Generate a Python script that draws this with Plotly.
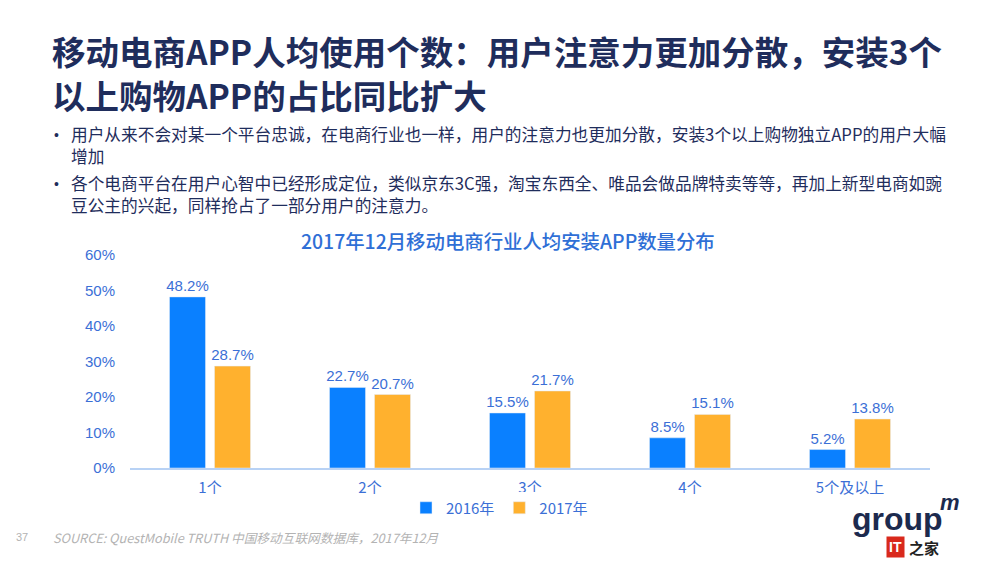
import plotly.graph_objects as go

# data
categories = ['1个', '2个', '3个', '4个', '5个及以上']
share_2016 = [0.482, 0.227, 0.155, 0.085, 0.052]
share_2017 = [0.287, 0.207, 0.217, 0.151, 0.138]
y_ticks = [0, 0.1, 0.2, 0.3, 0.4, 0.5, 0.6]

page_title = '移动电商APP人均使用个数：用户注意力更加分散，安装3个<br>以上购物APP的占比同比扩大'
bullets = [
    '用户从来不会对某一个平台忠诚，在电商行业也一样，用户的注意力也更加分散，安装3个以上购物独立APP的用户大幅<br>增加',
    '各个电商平台在用户心智中已经形成定位，类似京东3C强，淘宝东西全、唯品会做品牌特卖等等，再加上新型电商如豌<br>豆公主的兴起，同样抢占了一部分用户的注意力。',
]
chart_title = '2017年12月移动电商行业人均安装APP数量分布'
source_text = 'SOURCE: QuestMobile TRUTH 中国移动互联网数据库，2017年12月'

FONT = 'Liberation Sans, Arial, Noto Sans CJK SC'
CJK = 'Noto Sans CJK SC, Liberation Sans'
NAVY = '#1f2d5c'
BLUE_TXT = '#3b6fd6'
C16 = '#0a80ff'
C17 = '#ffb12e'

# page body has an 8px margin, so figure coords = page coords - 8
OFF = 8
W, H = 1000, 563
L, T = 130 - OFF, 255 - OFF
R = W - (930 - OFF)
B = H - (468 - OFF)
PW, PH = W - L - R, H - T - B


def px(x):
    return (x - OFF - L) / PW


def py(y):
    return (H - B - (y - OFF)) / PH


fig = go.Figure()
for name, vals, col in [('2016年', share_2016, C16), ('2017年', share_2017, C17)]:
    fig.add_trace(go.Bar(x=categories, y=vals, name=name, marker_color=col,
                         texttemplate='%{y:.1%}', textposition='outside',
                         constraintext='none',
                         outsidetextfont=dict(color=BLUE_TXT, size=15, family=FONT),
                         cliponaxis=False))

fig.update_layout(
    width=W, height=H,
    margin=dict(l=L, r=R, t=T, b=B),
    paper_bgcolor='white', plot_bgcolor='white',
    barmode='group', bargap=0.4375, bargroupgap=0.2,
    font=dict(family=FONT, color=BLUE_TXT),
    showlegend=True,
    legend=dict(orientation='h', x=px(406), xanchor='left', y=py(508), yanchor='middle',
                font=dict(size=15, color=BLUE_TXT, family=CJK), itemwidth=30,
                traceorder='normal'),
)
fig.update_xaxes(showline=True, linecolor='#b8d2f5', linewidth=1.5, ticks='',
                 ticklabelstandoff=5,
                 tickfont=dict(size=15, color=BLUE_TXT, family=CJK))
fig.update_yaxes(range=[0, 0.6], tickvals=y_ticks, tickformat='.0%', showgrid=False,
                 zeroline=False, showline=False, ticks='', ticklabelstandoff=14,
                 tickfont=dict(size=15, color=BLUE_TXT, family=FONT))

ann = []
# page title, two lines
ann.append(dict(text='<b>' + page_title + '</b>', x=px(50), y=py(72), xref='paper', yref='paper',
                xanchor='left', yanchor='middle', align='left', showarrow=False,
                font=dict(size=33.5, color=NAVY, family=CJK)))
# bullets, two lines each
for i, text in enumerate(bullets):
    yy = [135, 184][i]
    ann.append(dict(text='•', x=px(52), y=py(yy), xref='paper', yref='paper',
                    xanchor='left', yanchor='middle', showarrow=False,
                    font=dict(size=14, color=NAVY, family=FONT)))
    ann.append(dict(text=text, x=px(69), y=py(yy + 10), xref='paper', yref='paper',
                    xanchor='left', yanchor='middle', align='left', showarrow=False,
                    font=dict(size=16.7, color=NAVY, family=CJK)))
# chart title
ann.append(dict(text=chart_title, x=px(508), y=py(240), xref='paper', yref='paper',
                xanchor='center', yanchor='middle', showarrow=False,
                font=dict(size=19.4, color='#2f6fd6', family=CJK, weight=500)))
# footer
ann.append(dict(text='37', x=px(14), y=py(537), xref='paper', yref='paper',
                xanchor='left', yanchor='middle', showarrow=False,
                font=dict(size=11, color='#b3b3b3', family=FONT)))
ann.append(dict(text='<i>' + source_text + '</i>', x=px(51), y=py(537), xref='paper', yref='paper',
                xanchor='left', yanchor='middle', showarrow=False,
                font=dict(size=12.7, color='#b3b3b3', family=CJK)))
# logo
ann.append(dict(text='<b>group</b>', x=px(850), y=py(519), xref='paper', yref='paper',
                xanchor='left', yanchor='middle', showarrow=False,
                font=dict(size=32, color='#1c2a4e', family='Liberation Sans')))
ann.append(dict(text='<b><i>m</i></b>', x=px(938), y=py(502), xref='paper', yref='paper',
                xanchor='left', yanchor='middle', showarrow=False,
                font=dict(size=22, color='#1c2a4e', family='Liberation Sans')))
ann.append(dict(text='<b>IT</b>', x=px(895), y=py(547), xref='paper', yref='paper',
                xanchor='center', yanchor='middle', showarrow=False, bgcolor='#d9291c',
                borderpad=2,
                font=dict(size=14, color='white', family='Liberation Sans')))
ann.append(dict(text='<b>之家</b>', x=px(907), y=py(547), xref='paper', yref='paper',
                xanchor='left', yanchor='middle', showarrow=False,
                font=dict(size=15, color='#222222', family=CJK)))
fig.update_layout(annotations=ann)

fig.write_html('out.html')
